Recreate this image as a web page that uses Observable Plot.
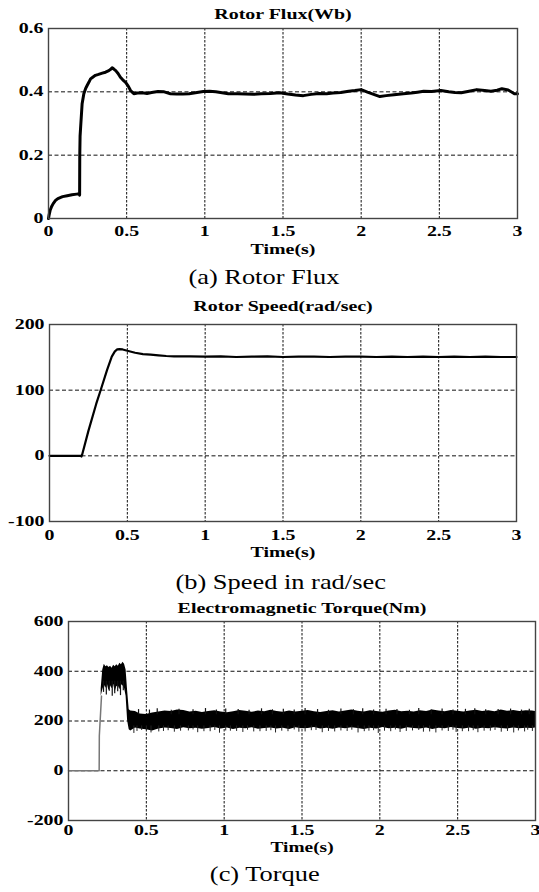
<!DOCTYPE html>
<html><head><meta charset="utf-8">
<script src="https://cdn.jsdelivr.net/npm/d3@7"></script>
<script src="https://cdn.jsdelivr.net/npm/@observablehq/plot@0.6"></script>
<style>
html,body{margin:0;padding:0;background:#fff;}
#wrap{position:relative;width:539px;height:892px;overflow:hidden;background:#fff;}
.panel{position:absolute;left:0;}
.cap{position:absolute;width:400px;text-align:center;font-family:'Liberation Serif','Times New Roman',serif;font-size:22px;line-height:22px;color:#000;white-space:nowrap;}
.cap span{display:inline-block;transform:scaleX(1.2);}
</style></head><body><div id="wrap"></div><script>
// ---- shared ticks ----
const timeTicks = [0, 0.5, 1, 1.5, 2, 2.5, 3];
const fluxTicks = [0, 0.2, 0.4, 0.6];
const speedTicks = [-100, 0, 100, 200];
const torqueTicks = [-200, 0, 200, 400, 600];

// ---- (a) rotor flux ----
const fluxT = [0,0.003,0.01,0.02,0.03,0.045,0.06,0.09,0.12,0.15,
  0.18,0.195,0.199,0.200,0.202,0.207,0.215,0.226,0.237,0.247,
  0.258,0.269,0.285,0.30,0.32,0.344,0.365,0.386,0.40,0.407,
  0.418,0.43,0.445,0.46,0.475,0.493,0.51,0.525,0.546,0.57,
  0.60,0.63,0.66,0.70,0.74,
  0.78,0.82,0.86,0.90,0.94,0.99,1.03,1.07,1.11,1.15,1.21,1.26,1.31,1.36,1.42,1.48,1.53,1.58,1.63,1.68,1.73,1.78,1.82,1.87,
  1.92,1.96,2.00,2.04,2.08,2.12,2.16,2.21,2.27,2.32,2.36,2.40,2.45,2.51,2.56,2.60,2.64,2.69,2.74,2.79,2.83,2.87,2.90,2.94,2.98,3.00];
const fluxV = [0,0.009,0.025,0.038,0.047,0.057,0.063,0.069,0.072,0.075,
  0.077,0.078,0.074,0.2,0.26,0.30,0.362,0.394,0.41,0.42,
  0.43,0.441,0.447,0.452,0.455,0.459,0.462,0.467,0.472,0.476,
  0.472,0.467,0.458,0.446,0.438,0.43,0.418,0.404,0.394,0.396,
  0.397,0.395,0.398,0.401,0.400,
  0.394,0.393,0.393,0.394,0.397,0.401,0.402,0.400,0.397,0.394,0.394,0.393,0.392,0.394,0.395,0.397,0.393,0.390,0.388,0.392,0.395,0.394,0.396,0.398,
  0.402,0.404,0.407,0.399,0.392,0.385,0.388,0.391,0.394,0.396,0.399,0.402,0.401,0.404,0.400,0.398,0.397,0.402,0.407,0.404,0.402,0.405,0.410,0.406,0.394,0.394];

// ---- (b) rotor speed ----
const speedT = [0,0.19,0.2,0.205,0.21,0.25,0.30,0.33,0.37,0.40,
  0.42,0.435,0.45,0.47,0.50,0.55,0.60,0.65,0.70,0.75,
  0.80,0.90,1.0,1.1,1.2,1.3,1.4,1.5,1.6,1.7,1.8,1.9,2.0,
  2.1,2.2,2.3,2.4,2.5,2.6,2.7,2.8,2.9,3.0];
const speedV = [0,0,0,-1,2,38,79,101,131,151,
  159,162,162.5,162,160,157,155,154,153,152,
  151.5,151.5,151,151.5,150.5,151,151.5,150.5,151,151,150.5,151,151,
  150.5,151,150.5,151,150.5,151,150.5,151,150.5,150.5];

// ---- (c) electromagnetic torque ----
const torqueStartT = [0, 0.197, 0.198, 0.212];
const torqueStartV = [0, 0, 140, 300];
const torqueT = [0.21,0.22,0.23,0.24,0.25,0.26,0.27,0.28,0.29,0.30,0.31,0.32,0.33,0.34,0.35,0.36,0.37,0.38,0.39,0.40,
  0.43,0.46,
  0.50,0.54,0.58,0.62,0.66,0.70,0.74,0.78,0.82,0.86,0.90,0.94,0.98,1.02,1.06,1.10,1.14,1.18,1.22,1.26,1.30,
  1.34,1.38,1.42,1.46,1.50,1.54,1.58,1.62,1.66,1.70,1.74,1.78,1.82,1.86,1.90,1.94,1.98,2.02,2.06,2.10,2.14,
  2.18,2.22,2.26,2.30,2.34,2.38,2.42,2.46,2.50,2.54,2.58,2.62,2.66,2.70,2.74,2.78,2.82,2.86,2.90,2.94,2.98,
  3.00];
const torqueHi = [330,405,428,418,422,415,420,412,424,418,426,420,432,426,436,428,405,320,245,240,
  238,228,
  226,232,236,240,238,244,242,236,239,234,238,241,236,233,237,242,239,235,240,237,243,
  238,235,240,236,239,242,237,234,238,241,236,240,244,239,236,241,238,235,240,243,237,
  239,236,241,238,244,240,237,242,239,236,240,243,238,241,237,244,239,242,238,241,240,
  238];
const torqueLo = [300,325,345,332,348,322,342,330,348,318,338,342,326,346,342,332,300,200,165,160,
  172,168,
  165,160,168,172,170,166,173,169,171,167,170,174,168,172,166,171,169,173,167,170,172,
  168,171,166,173,169,170,174,168,171,167,172,169,173,170,166,171,168,174,169,171,167,
  173,170,168,172,166,171,169,174,170,168,172,167,171,169,173,170,168,172,169,171,170,
  172];
// downward spikes below the band
const spikeT = [0.42,0.47,0.53,0.61,0.68,0.77,0.83,0.91,0.97,1.04,1.12,1.19,1.27,1.33,1.41,1.48,1.56,1.63,1.71,1.79,
  1.86,1.93,1.99,2.07,2.13,2.21,2.28,2.36,2.44,2.49,2.57,2.63,2.71,2.78,2.86,2.93,2.98,
  0.44,0.50,0.58,0.64,0.72,0.80,0.87,0.94,1.01,1.08,1.15,1.23,1.30,1.37,1.45,1.52,1.59,1.67,1.75,1.82,
  1.90,1.96,2.03,2.10,2.17,2.25,2.32,2.40,2.47,2.53,2.60,2.67,2.74,2.82,2.89,2.95];
const spikeLo = [150,162,152,158,155,160,153,157,151,159,154,156,158,152,157,155,161,153,156,158,
  152,159,150,157,154,160,155,152,158,154,157,153,159,155,152,156,158,
  158,163,156,161,159,164,157,162,160,158,163,157,161,159,164,156,162,158,160,163,
  157,161,159,164,158,162,156,160,163,157,161,159,162,158,160,163];
// upward spikes above the band
const upT = [0.45,0.52,0.57,0.66,0.71,0.80,0.88,0.95,1.01,1.09,1.16,1.24,1.31,1.38,1.45,1.52,1.60,1.67,1.75,1.83,
  1.89,1.96,2.04,2.11,2.19,2.25,2.33,2.40,2.47,2.55,2.61,2.68,2.76,2.84,2.91,2.96];
const upHi = [246,244,249,243,247,245,250,244,248,246,243,249,245,247,244,250,246,243,248,245,
  249,244,247,246,243,250,245,248,244,247,249,245,246,248,244,247];
// spikes in the start-up burst
const burstT = [0.225,0.243,0.262,0.281,0.297,0.316,0.334,0.352];
const burstLo = [315,305,320,300,310,318,302,322];

const FONT = "'Liberation Serif','Times New Roman',serif";
const wrap = document.getElementById("wrap");

function panel(o) {
  const svg = Plot.plot({
    width: 539, height: o.height,
    marginTop: o.mt, marginBottom: o.mb, marginLeft: o.ml, marginRight: o.mr,
    style: {fontFamily: FONT, fontSize: "14px", fontWeight: "bold", color: "#000", background: "transparent", overflow: "visible"},
    x: {domain: [0, 3], ticks: timeTicks, tickFormat: d => String(d), tickSize: 0, tickPadding: o.xPad, label: null},
    y: {domain: o.yDomain, ticks: o.yTicks, tickFormat: d => String(d), tickSize: 0, tickPadding: 5, label: null},
    marks: [
      Plot.ruleY(o.yTicks, {stroke: "#111", strokeWidth: 1, strokeDasharray: "4,2.5"}),
      Plot.ruleX(timeTicks, {stroke: "#111", strokeWidth: 1, strokeDasharray: "2.5,1.5"}),
      ...o.marks,
      Plot.frame({stroke: "#444", strokeWidth: 1.4}),
      Plot.text([o.title], {text: d => d, frameAnchor: "top", lineAnchor: "middle", dy: -o.titleDy, fontSize: 15}),
      Plot.text(["Time(s)"], {text: d => d, frameAnchor: "bottom", lineAnchor: "middle", dy: o.timeDy, fontSize: o.timeFs || 15})
    ]
  });
  const div = document.createElement("div");
  div.className = "panel";
  div.style.top = o.top + "px";
  div.appendChild(svg);
  wrap.appendChild(div);
  svg.querySelectorAll("text").forEach(t => {
    const fs = parseFloat(getComputedStyle(t).fontSize);
    const s = fs >= 14.5 ? 1.33 : 1.42;
    const tr = t.getAttribute("transform");
    if (tr) t.setAttribute("transform", tr + ` scale(${s},1)`);
    else {
      const x = parseFloat(t.getAttribute("x")) || 0, y = parseFloat(t.getAttribute("y")) || 0;
      t.setAttribute("transform", `translate(${x},${y}) scale(${s},1) translate(${-x},${-y})`);
    }
  });
}

function caption(text, cx, top) {
  const d = document.createElement("div");
  d.className = "cap";
  d.style.left = (cx - 200) + "px";
  d.style.top = top + "px";
  const s = document.createElement("span");
  s.textContent = text;
  d.appendChild(s);
  wrap.appendChild(d);
}

const fluxData = fluxT.map((t, i) => ({t, v: fluxV[i]}));
const speedData = speedT.map((t, i) => ({t, v: speedV[i]}));
const tStart = torqueStartT.map((t, i) => ({t, v: torqueStartV[i]}));
const band = torqueT.map((t, i) => ({t, lo: torqueLo[i], hi: torqueHi[i]}));
const spikes = spikeT.map((t, i) => ({t, lo: spikeLo[i]}));
const ups = upT.map((t, i) => ({t, hi: upHi[i]}));
const burst = burstT.map((t, i) => ({t, lo: burstLo[i]}));

panel({top: 0, height: 262, mt: 28, mb: 44, ml: 48, mr: 22, xPad: 8, titleDy: 14, timeDy: 31,
  yDomain: [0, 0.6], yTicks: fluxTicks, title: "Rotor Flux(Wb)",
  marks: [Plot.line(fluxData, {x: "t", y: "v", stroke: "#000", strokeWidth: 3})]});
caption("(a) Rotor Flux", 264, 266);

panel({top: 290, height: 275, mt: 34, mb: 44, ml: 49, mr: 23, xPad: 9, titleDy: 18, timeDy: 31,
  yDomain: [-100, 200], yTicks: speedTicks, title: "Rotor Speed(rad/sec)",
  marks: [Plot.line(speedData, {x: "t", y: "v", stroke: "#000", strokeWidth: 2.2})]});
caption("(b) Speed in rad/sec", 281, 571);

panel({top: 595, height: 262, mt: 26, mb: 37, ml: 68, mr: 4, xPad: 5, titleDy: 13, timeDy: 27, timeFs: 14.6,
  yDomain: [-200, 600], yTicks: torqueTicks, title: "Electromagnetic Torque(Nm)",
  marks: [
    Plot.line(tStart, {x: "t", y: "v", stroke: "#777", strokeWidth: 1.5}),
    Plot.areaY(band, {x: "t", y1: "lo", y2: "hi", fill: "#000"}),
    Plot.ruleX(spikes, {x: "t", y1: "lo", y2: 180, stroke: "#222", strokeWidth: 1}),
    Plot.ruleX(ups, {x: "t", y1: 225, y2: "hi", stroke: "#111", strokeWidth: 1.2}),
    Plot.ruleX(burst, {x: "t", y1: "lo", y2: 360, stroke: "#111", strokeWidth: 1.2})
  ]});
caption("(c) Torque", 265, 863);
</script></body></html>
